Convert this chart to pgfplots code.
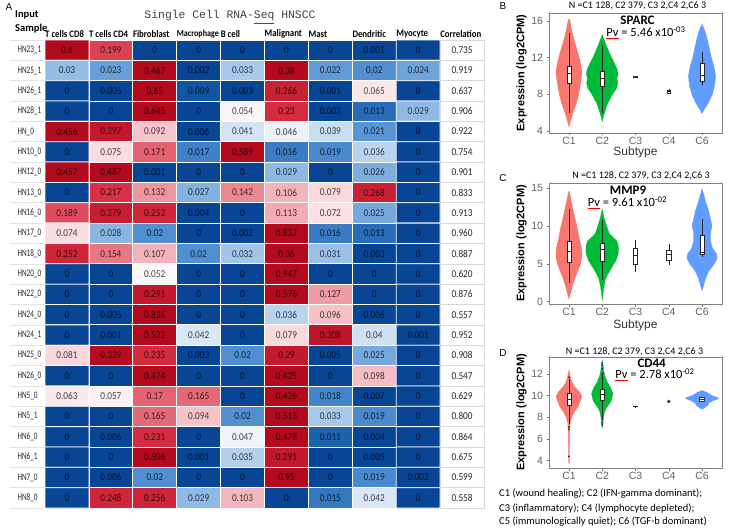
\documentclass[border=0pt]{standalone}
\usepackage{fontspec}
\setmainfont{Carlito}
\newfontfamily\arial{Liberation Sans}
\newfontfamily\mono{Liberation Mono}
\newfontfamily\cellf[FakeStretch=0.88]{Carlito}
\newfontfamily\rowf[FakeStretch=0.72]{Carlito}
\usepackage{pgfplots}
\usepackage{pgfplotstable}
\pgfplotsset{compat=1.18}
\usepgfplotslibrary{statistics}
\definecolor{vred}{RGB}{248,118,109}
\definecolor{vgreen}{RGB}{0,186,56}
\definecolor{vblue}{RGB}{97,156,255}

\pgfdeclareplotmark{cell}{\pgfpathrectangle{\pgfpoint{-21.95pt}{-10.174pt}}{\pgfpoint{43.9pt}{20.348pt}}\pgfusepathqfillstroke}

% heatmap: column x (cell type), row y (sample), value v
\pgfplotstableread[row sep=\\]{
x y v\\
0 0 0.6\\ 1 0 0.199\\ 2 0 0\\ 3 0 0\\ 4 0 0\\ 5 0 0\\ 6 0 0\\ 7 0 0.001\\ 8 0 0\\
0 1 0.03\\ 1 1 0.023\\ 2 1 0.467\\ 3 1 0.002\\ 4 1 0.033\\ 5 1 0.38\\ 6 1 0.022\\ 7 1 0.02\\ 8 1 0.024\\
0 2 0\\ 1 2 0.005\\ 2 2 0.65\\ 3 2 0.009\\ 4 2 0.003\\ 5 2 0.266\\ 6 2 0.001\\ 7 2 0.065\\ 8 2 0\\
0 3 0\\ 1 3 0\\ 2 3 0.645\\ 3 3 0\\ 4 3 0.054\\ 5 3 0.23\\ 6 3 0.003\\ 7 3 0.013\\ 8 3 0.029\\
0 4 0.456\\ 1 4 0.297\\ 2 4 0.092\\ 3 4 0.006\\ 4 4 0.041\\ 5 4 0.046\\ 6 4 0.039\\ 7 4 0.021\\ 8 4 0\\
0 5 0\\ 1 5 0.075\\ 2 5 0.171\\ 3 5 0.017\\ 4 5 0.589\\ 5 5 0.016\\ 6 5 0.019\\ 7 5 0.036\\ 8 5 0\\
0 6 0.457\\ 1 6 0.487\\ 2 6 0.001\\ 3 6 0\\ 4 6 0\\ 5 6 0.029\\ 6 6 0\\ 7 6 0.026\\ 8 6 0\\
0 7 0\\ 1 7 0.217\\ 2 7 0.132\\ 3 7 0.027\\ 4 7 0.142\\ 5 7 0.106\\ 6 7 0.079\\ 7 7 0.268\\ 8 7 0\\
0 8 0.189\\ 1 8 0.279\\ 2 8 0.252\\ 3 8 0.004\\ 4 8 0\\ 5 8 0.113\\ 6 8 0.072\\ 7 8 0.025\\ 8 8 0\\
0 9 0.074\\ 1 9 0.028\\ 2 9 0.02\\ 3 9 0\\ 4 9 0.002\\ 5 9 0.837\\ 6 9 0.016\\ 7 9 0.013\\ 8 9 0\\
0 10 0.252\\ 1 10 0.154\\ 2 10 0.107\\ 3 10 0.02\\ 4 10 0.032\\ 5 10 0.36\\ 6 10 0.031\\ 7 10 0.003\\ 8 10 0\\
0 11 0\\ 1 11 0\\ 2 11 0.052\\ 3 11 0\\ 4 11 0\\ 5 11 0.947\\ 6 11 0\\ 7 11 0\\ 8 11 0\\
0 12 0\\ 1 12 0\\ 2 12 0.291\\ 3 12 0\\ 4 12 0\\ 5 12 0.576\\ 6 12 0.127\\ 7 12 0\\ 8 12 0\\
0 13 0\\ 1 13 0.005\\ 2 13 0.836\\ 3 13 0\\ 4 13 0\\ 5 13 0.036\\ 6 13 0.096\\ 7 13 0.006\\ 8 13 0\\
0 14 0\\ 1 14 0.001\\ 2 14 0.522\\ 3 14 0.042\\ 4 14 0\\ 5 14 0.079\\ 6 14 0.308\\ 7 14 0.04\\ 8 14 0.001\\
0 15 0.081\\ 1 15 0.339\\ 2 15 0.235\\ 3 15 0.003\\ 4 15 0.02\\ 5 15 0.29\\ 6 15 0.005\\ 7 15 0.025\\ 8 15 0\\
0 16 0\\ 1 16 0\\ 2 16 0.474\\ 3 16 0\\ 4 16 0\\ 5 16 0.425\\ 6 16 0\\ 7 16 0.098\\ 8 16 0\\
0 17 0.063\\ 1 17 0.057\\ 2 17 0.17\\ 3 17 0.165\\ 4 17 0\\ 5 17 0.426\\ 6 17 0.018\\ 7 17 0.007\\ 8 17 0\\
0 18 0\\ 1 18 0\\ 2 18 0.165\\ 3 18 0.094\\ 4 18 0.02\\ 5 18 0.513\\ 6 18 0.033\\ 7 18 0.019\\ 8 18 0\\
0 19 0\\ 1 19 0.006\\ 2 19 0.231\\ 3 19 0\\ 4 19 0.047\\ 5 19 0.478\\ 6 19 0.011\\ 7 19 0.004\\ 8 19 0\\
0 20 0\\ 1 20 0\\ 2 20 0.506\\ 3 20 0.001\\ 4 20 0.035\\ 5 20 0.291\\ 6 20 0\\ 7 20 0.005\\ 8 20 0\\
0 21 0\\ 1 21 0.006\\ 2 21 0.02\\ 3 21 0\\ 4 21 0\\ 5 21 0.95\\ 6 21 0\\ 7 21 0.019\\ 8 21 0.002\\
0 22 0\\ 1 22 0.248\\ 2 22 0.256\\ 3 22 0.029\\ 4 22 0.103\\ 5 22 0\\ 6 22 0.015\\ 7 22 0.042\\ 8 22 0\\
}\hm

\pgfplotstableread{
r Cor
0 0.735
1 0.919
2 0.637
3 0.906
4 0.922
5 0.754
6 0.901
7 0.833
8 0.913
9 0.960
10 0.887
11 0.620
12 0.876
13 0.557
14 0.952
15 0.908
16 0.547
17 0.629
18 0.800
19 0.864
20 0.675
21 0.599
22 0.558
}\corrtab

% violin outlines: y, half width
\pgfplotstableread{
y w
4.45 0
5 0.04
6 0.12
7 0.22
8 0.29
9 0.34
10 0.38
10.5 0.39
11 0.37
12 0.31
13 0.23
14 0.15
15 0.08
16 0.03
16.25 0
}\vBa
\pgfplotstableread{
y w
5.0 0
5.5 0.03
6 0.07
7 0.16
8 0.31
8.7 0.44
9.3 0.47
9.7 0.44
10.2 0.48
10.7 0.45
11.3 0.38
12 0.28
13 0.16
14 0.05
14.5 0
}\vBb
\pgfplotstableread{
y w
5.9 0
6.3 0.06
7 0.18
8 0.31
9 0.38
10 0.41
11 0.36
12 0.28
13 0.22
14 0.16
15 0.08
15.65 0
}\vBc
\pgfplotstableread{
y w
0.35 0
1 0.04
2 0.10
3 0.17
4 0.26
5 0.35
6 0.39
7 0.38
8 0.33
9 0.28
10 0.24
11 0.18
12 0.13
13 0.08
14 0.04
14.6 0
}\vCa
\pgfplotstableread{
y w
0.2 0
1 0.02
2 0.05
3 0.10
3.5 0.15
4.5 0.28
5.5 0.42
6.5 0.49
7.5 0.48
8 0.44
8.6 0.30
9 0.21
10 0.13
11 0.06
12.2 0
}\vCb
\pgfplotstableread{
y w
1.5 0
2 0.04
3 0.10
4 0.20
5 0.37
5.7 0.45
6.3 0.44
7 0.32
8 0.25
9 0.25
10 0.30
11 0.25
12 0.20
13 0.12
14 0.06
14.9 0
}\vCc
\pgfplotstableread{
y w
3.7 0
4 0.012
5 0.015
6 0.018
7 0.025
7.5 0.04
8 0.08
8.5 0.16
9 0.28
9.5 0.34
9.9 0.39
10.3 0.33
10.8 0.18
11.2 0.10
11.6 0.05
12 0.025
12.33 0
}\vDa
\pgfplotstableread{
y w
7.0 0
7.3 0.02
8 0.04
8.5 0.07
8.85 0.12
9.2 0.20
9.5 0.27
10.2 0.32
10.7 0.26
11.2 0.16
11.8 0.08
12.4 0.04
13 0.015
13.26 0
}\vDb
\pgfplotstableread{
y w
8.75 0
8.9 0.08
9.1 0.17
9.3 0.20
9.5 0.30
9.7 0.47
9.8 0.50
9.95 0.35
10.1 0.25
10.3 0.15
10.48 0
}\vDc

\newcommand{\violin}[3]{%
  \addplot[fill=#2, draw=#2, line width=0.3pt] table[x expr=#1+\thisrow{w}, y=y] {#3};
  \addplot[fill=#2, draw=#2, line width=0.3pt] table[x expr=#1-\thisrow{w}, y=y] {#3};}
\newcommand{\bx}[7]{%
  \addplot[boxplot/draw direction=y, boxplot prepared={draw position=#1, lower whisker=#2, lower quartile=#3, median=#4, upper quartile=#5, upper whisker=#6, box extend=#7, whisker extend=0}, fill=white, draw=black!85, line width=0.55pt] coordinates {};}
\newcommand{\pvu}{\rlap{\color{red}\underline{\phantom{Pv}}}Pv}

\pgfplotsset{
  vstyle/.style={scale only axis, width=173pt, xmin=0.4, xmax=5.6,
    xtick={1,2,3,4,5}, xticklabels={C1,C2,C3,C4,C6},
    xtick pos=left, ytick pos=left, tick align=outside, major tick length=2.5pt,
    axis line style={draw=black!50, line width=0.5pt},
    tick style={black!55, line width=0.5pt},
    /pgf/number format/assume math mode=true,
    tick label style={font=\arial\fontsize{10.5}{10.5}\selectfont, text=black!62},
    xticklabel style={yshift=1.5pt},
    ylabel={Expression (log2CPM)},
    every axis y label/.style={at={(axis description cs:-0.158,0.5)}, rotate=90, anchor=center, font=\arial\bfseries\fontsize{11}{11}\selectfont},
    every axis x label/.style={anchor=center, font=\arial\fontsize{12}{12}\selectfont, text=black!80}}
}

\begin{document}
\begin{tikzpicture}
\path[use as bounding box] (0,0) rectangle (733pt,-532pt);

% ---------------- Panel A: heatmap ----------------
\begin{axis}[
  at={(45pt,-40pt)}, anchor=north west,
  scale only axis, width=439pt, height=468pt,
  xmin=-0.5, xmax=9.5, ymin=-0.5, ymax=22.5, y dir=reverse,
  axis line style={draw=none}, major tick length=0pt,
  /pgf/number format/assume math mode=true,
  colormap={hmmap}{rgb255=(8,69,148) rgb255=(30,100,175) rgb255=(70,135,205) rgb255=(150,190,230) rgb255=(250,250,252) rgb255=(250,215,220) rgb255=(238,150,160) rgb255=(218,50,70) rgb255=(180,10,30)},
  point meta min=-2.155, point meta max=-0.456,
  xtick={-0.5,0.5,1.5,2.5,3.5,4.5,5.5,6.5,7.5,8.5},
  xticklabels={T cells CD8, T cells CD4, Fibroblast, {\fontsize{9.2}{9.2}\selectfont Macrophage}, B cell, Malignant, Mast, Dendritic, Myocyte, Correlation},
  xticklabel pos=upper,
  xticklabel style={anchor=south west, inner sep=0pt, yshift=2pt, font=\cellf\bfseries\fontsize{10}{10}\selectfont},
  ytick={0,...,22},
  yticklabels={HN23\_1, HN25\_1, HN26\_1, HN28\_1, HN\_0, HN10\_0, HN12\_0, HN13\_0, HN16\_0, HN17\_0, HN18\_0, HN20\_0, HN22\_0, HN24\_0, HN24\_1, HN25\_0, HN26\_0, HN5\_0, HN5\_1, HN6\_0, HN6\_1, HN7\_0, HN8\_0},
  yticklabel style={anchor=west, xshift=-31pt, font=\rowf\fontsize{10}{10}\selectfont, text=black!85},
  clip=false, unbounded coords=jump,
]
% faint row separators beside the sample names
\addplot[gray!22, line width=0.6pt] coordinates {
(-1.3,-0.5) (-0.5,-0.5) (nan,nan) (-1.3,0.5) (-0.5,0.5) (nan,nan) (-1.3,1.5) (-0.5,1.5) (nan,nan)
(-1.3,2.5) (-0.5,2.5) (nan,nan) (-1.3,3.5) (-0.5,3.5) (nan,nan) (-1.3,4.5) (-0.5,4.5) (nan,nan)
(-1.3,5.5) (-0.5,5.5) (nan,nan) (-1.3,6.5) (-0.5,6.5) (nan,nan) (-1.3,7.5) (-0.5,7.5) (nan,nan)
(-1.3,8.5) (-0.5,8.5) (nan,nan) (-1.3,9.5) (-0.5,9.5) (nan,nan) (-1.3,10.5) (-0.5,10.5) (nan,nan)
(-1.3,11.5) (-0.5,11.5) (nan,nan) (-1.3,12.5) (-0.5,12.5) (nan,nan) (-1.3,13.5) (-0.5,13.5) (nan,nan)
(-1.3,14.5) (-0.5,14.5) (nan,nan) (-1.3,15.5) (-0.5,15.5) (nan,nan) (-1.3,16.5) (-0.5,16.5) (nan,nan)
(-1.3,17.5) (-0.5,17.5) (nan,nan) (-1.3,18.5) (-0.5,18.5) (nan,nan) (-1.3,19.5) (-0.5,19.5) (nan,nan)
(-1.3,20.5) (-0.5,20.5) (nan,nan) (-1.3,21.5) (-0.5,21.5) (nan,nan) (-1.3,22.5) (-0.5,22.5)};
% correlation column
\addplot[only marks, mark=cell, mark options={fill=white, draw=gray!30, line width=0.6pt},
  visualization depends on={\thisrow{Cor}\as\rawv},
  nodes near coords={\pgfmathprintnumber[fixed, fixed zerofill, precision=3]{\rawv}},
  every node near coord/.append style={anchor=center, text=black!85, font=\cellf\fontsize{10.5}{10.5}\selectfont, inner sep=0pt}]
  table[x expr=9, y=r] {\corrtab};
% colored cells
\addplot[matrix plot*, mesh/cols=9, mesh/rows=23, shader=faceted, faceted color=white, line width=0.8pt, point meta=explicit]
  table[x=x, y=y, meta expr={min(max(ln(\thisrow{v}+0.000001)/ln(10),-2.155),-0.456)}] {\hm};
% cell values
\addplot[only marks, mark=*, mark size=0pt, point meta=explicit,
  nodes near coords={\pgfmathprintnumber[fixed, precision=3]{\pgfplotspointmeta}},
  every node near coord/.append style={anchor=center, text=black, text opacity=0.72, font=\cellf\fontsize{10.5}{10.5}\selectfont, inner sep=0pt}]
  table[x=x, y=y, meta=v] {\hm};
\end{axis}

\node[anchor=west, font=\arial\fontsize{10}{10}\selectfont] at (2pt,-7pt) {A};
\node[anchor=west, font=\bfseries\fontsize{10.5}{10.5}\selectfont, inner sep=0pt] at (15pt,-15pt) {Input};
\node[anchor=west, font=\bfseries\fontsize{10.5}{10.5}\selectfont, inner sep=0pt] at (15pt,-29pt) {Sample};
\node[font=\mono\fontsize{11.4}{11.4}\selectfont, text=black!75] at (230pt,-17pt) {Single Cell RNA-\rlap{\color{red}\underline{\phantom{Seq}}}Seq HNSCC};

% ---------------- Panel B ----------------
\begin{axis}[vstyle, at={(549pt,-13pt)}, anchor=north west, height=120pt,
  ymin=3.78, ymax=16.87, ytick={4,8,12,16}, xlabel={Subtype},
  every axis x label/.append style={at={(axis description cs:0.5,-0.16)}}]
\violin{1}{vred}{\vBa}
\violin{2}{vgreen}{\vBb}
\violin{5}{vblue}{\vBc}
\bx{1}{6.0}{9.2}{10.28}{11.1}{14.7}{0.12}
\bx{2}{6.0}{8.9}{9.73}{10.56}{13.4}{0.12}
\bx{3}{9.86}{9.87}{9.9}{9.93}{9.94}{0.13}
\bx{4}{8.05}{8.15}{8.3}{8.45}{8.6}{0.09}
\bx{5}{9.0}{9.47}{10.09}{11.43}{12.63}{0.12}
\end{axis}
\node[font=\arial\fontsize{10}{10}\selectfont] at (503pt,-6pt) {B};
\node[font=\fontsize{10}{10}\selectfont] at (637.5pt,-6pt) {N =C1 128, C2 379, C3 2,C4 2,C6 3};
\node[font=\bfseries\fontsize{13}{13}\selectfont] at (637.5pt,-20pt) {SPARC};
\node[font=\fontsize{12.5}{12.5}\selectfont] at (646pt,-32.5pt) {\pvu\ = 5.46 x10\textsuperscript{-03}};

% ---------------- Panel C ----------------
\begin{axis}[vstyle, at={(549pt,-183pt)}, anchor=north west, height=121pt,
  ymin=-0.3, ymax=15.66, ytick={0,5,10,15}, xlabel={Subtype},
  every axis x label/.append style={at={(axis description cs:0.5,-0.175)}}]
\violin{1}{vred}{\vCa}
\violin{2}{vgreen}{\vCb}
\violin{5}{vblue}{\vCc}
\bx{1}{2.5}{5.15}{6.68}{7.95}{12.2}{0.12}
\bx{2}{2.8}{5.33}{6.9}{7.73}{10.9}{0.12}
\bx{3}{3.9}{4.9}{6.1}{7.07}{8.1}{0.13}
\bx{4}{4.8}{5.46}{6.2}{6.77}{7.6}{0.13}
\bx{5}{5.9}{6.25}{6.46}{8.73}{10.9}{0.12}
\end{axis}
\node[font=\arial\fontsize{10}{10}\selectfont] at (503pt,-178pt) {C};
\node[font=\fontsize{10}{10}\selectfont] at (641pt,-176pt) {N =C1 128, C2 379, C3 2,C4 2,C6 3};
\node[font=\bfseries\fontsize{13}{13}\selectfont] at (628pt,-190pt) {MMP9};
\node[font=\fontsize{12.5}{12.5}\selectfont] at (627.5pt,-202.5pt) {\pvu\ = 9.61 x10\textsuperscript{-02}};

% ---------------- Panel D ----------------
\begin{axis}[vstyle, at={(549pt,-357pt)}, anchor=north west, height=111pt,
  ymin=3.33, ymax=13.57, ytick={4,6,8,10,12}]
\violin{1}{vred}{\vDa}
\violin{2}{vgreen}{\vDb}
\violin{5}{vblue}{\vDc}
\bx{1}{7.4}{9.15}{9.68}{10.2}{11.5}{0.12}
\bx{2}{7.8}{9.55}{10.1}{10.6}{12.2}{0.12}
\bx{3}{8.98}{8.99}{9.0}{9.01}{9.02}{0.13}
\addplot[boxplot/draw direction=y, boxplot prepared={draw position=5, lower whisker=9.42, lower quartile=9.5, median=9.66, upper quartile=9.82, upper whisker=9.88, box extend=0.15, whisker extend=0}, fill=white, draw=black!80, line width=0.4pt] coordinates {};
\addplot[only marks, mark=*, mark size=0.7pt, black!80] coordinates {(1,7.1) (1,6.9) (1,4.4) (1,11.7) (2,12.5) (2,12.8) (2,13.0) (2,7.5) (2,7.3)};
\addplot[only marks, mark=*, mark size=1.6pt, black!75] coordinates {(4,9.46)};
\end{axis}
\node[font=\arial\fontsize{10}{10}\selectfont] at (503pt,-353pt) {D};
\node[font=\fontsize{10}{10}\selectfont] at (634.5pt,-352pt) {N =C1 128, C2 379, C3 2,C4 2,C6 3};
\node[font=\bfseries\fontsize{13}{13}\selectfont] at (651.7pt,-363pt) {CD44};
\node[font=\fontsize{12.5}{12.5}\selectfont] at (655pt,-374.5pt) {\pvu\ = 2.78 x10\textsuperscript{-02}};

\node[anchor=west, font=\fontsize{10.5}{10.5}\selectfont, inner sep=0pt] at (499pt,-494pt) {C1 (wound healing); C2 (IFN-gamma dominant);};
\node[anchor=west, font=\fontsize{10.5}{10.5}\selectfont, inner sep=0pt] at (499pt,-508pt) {C3 (inflammatory); C4 (lymphocyte depleted);};
\node[anchor=west, font=\fontsize{10.5}{10.5}\selectfont, inner sep=0pt] at (499pt,-522pt) {C5 (immunologically quiet); C6 (TGF-b dominant)};
\end{tikzpicture}
\end{document}
